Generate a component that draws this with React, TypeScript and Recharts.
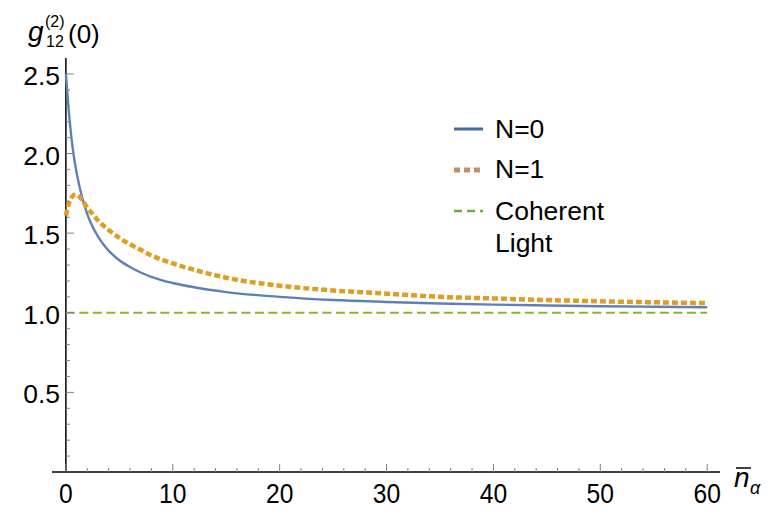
import React from 'react';
import { ComposedChart, Line, XAxis, YAxis, Scatter, ReferenceLine } from 'recharts';

const nBlue = [0, 0.25, 0.5, 0.75, 1, 1.5, 2, 2.5, 3, 3.5, 4, 5, 6, 7, 8, 9, 10, 12, 15, 20, 25, 30, 35, 40, 45, 50, 55, 60];
const gN0 = [2.5, 2.28, 2.11, 1.98, 1.88, 1.73, 1.62, 1.54, 1.48, 1.43, 1.39, 1.33, 1.287, 1.253, 1.226, 1.204, 1.187, 1.16, 1.13, 1.1, 1.08, 1.068, 1.058, 1.051, 1.046, 1.041, 1.038, 1.035];
const nOrange = [0, 0.25, 0.5, 0.75, 1, 1.5, 2, 2.5, 3, 4, 5, 6, 7, 8, 10, 12, 15, 20, 25, 30, 35, 40, 45, 50, 55, 60];
const gN1 = [1.61, 1.68, 1.72, 1.74, 1.74, 1.71, 1.66, 1.62, 1.58, 1.52, 1.47, 1.43, 1.395, 1.36, 1.31, 1.27, 1.22, 1.17, 1.14, 1.12, 1.1, 1.09, 1.08, 1.072, 1.066, 1.061];
const nCoherent = [0, 60];
const gCoherent = [1, 1];

const xTicks = [0, 2, 4, 6, 8, 10, 12, 14, 16, 18, 20, 22, 24, 26, 28, 30, 32, 34, 36, 38, 40, 42, 44, 46, 48, 50, 52, 54, 56, 58, 60];
const xLabels = [0, 10, 20, 30, 40, 50, 60];
const yMinorTicks = [0.1, 0.2, 0.3, 0.4, 0.5, 0.6, 0.7, 0.8, 0.9, 1.0, 1.1, 1.2, 1.3, 1.4, 1.5, 1.6, 1.7, 1.8, 1.9, 2.0, 2.1, 2.2, 2.3, 2.4, 2.5];
const yLabels = [0.5, 1.0, 1.5, 2.0, 2.5];

const dataN0 = nBlue.map((n, i) => ({ n, g: gN0[i] }));
const dataN1 = nOrange.map((n, i) => ({ n, g: gN1[i] }));
const dataCoh = nCoherent.map((n, i) => ({ n, g: gCoherent[i] }));
const yTickMarks = yMinorTicks.map((v) => ({ n: 0, g: v, major: yLabels.some((l) => Math.abs(l - v) < 1e-6) }));

const FONT = '"Liberation Sans", Arial, Helvetica, sans-serif';
const TICK_COLOR = '#808080';

const XTick = (props: any) => {
  const { x, y, payload } = props;
  const v = payload.value;
  const major = xLabels.includes(v);
  return (
    <g>
      <line x1={x} x2={x} y1={y} y2={y - (major ? 8 : 4)} stroke={TICK_COLOR} strokeWidth={1} />
      {major && (
        <text x={x} y={y + 31} textAnchor="middle" fontFamily={FONT} fontSize={28} fill="#000"
          transform={`translate(${x} 0) scale(0.88 1) translate(${-x} 0)`}>
          {v}
        </text>
      )}
    </g>
  );
};

const YTick = (props: any) => {
  const { x, y, payload } = props;
  return (
    <text x={x + 8} y={y + 11} textAnchor="end" fontFamily={FONT} fontSize={26.5} fill="#000">
      {payload.value.toFixed(1)}
    </text>
  );
};

const YTickMark = (props: any) => {
  const { cx, cy, payload } = props;
  const len = payload.major ? 8 : 4;
  return <line x1={cx} x2={cx + len} y1={cy} y2={cy} stroke={TICK_COLOR} strokeWidth={1} />;
};

export default function App() {
  return (
    <div style={{ position: 'absolute', left: 0, top: 0, width: 784, height: 530, background: '#fff' }}>
      <ComposedChart width={784} height={530} margin={{ top: 58, right: 64, bottom: 28, left: 0 }}>
        <XAxis
          type="number"
          dataKey="n"
          domain={[-1.3, 61.2]}
          allowDataOverflow
          ticks={xTicks}
          interval={0}
          tickSize={0}
          tickMargin={0}
          tickLine={false}
          tick={<XTick />}
          axisLine={{ stroke: '#000', strokeWidth: 1.5 }}
          height={30}
        />
        <YAxis
          type="number"
          domain={[0, 2.6]}
          allowDataOverflow
          ticks={yLabels}
          interval={0}
          tickSize={0}
          tickMargin={0}
          tickLine={false}
          axisLine={false}
          tick={<YTick />}
          width={52}
        />
        <ReferenceLine x={0} stroke="#000" strokeWidth={1.5} />
        <Scatter data={yTickMarks} dataKey="g" shape={<YTickMark />} isAnimationActive={false} />
        <Line data={dataN0} dataKey="g" type="monotone" stroke="#5e81b5" strokeWidth={2.4} dot={false} isAnimationActive={false} />
        <Line data={dataN1} dataKey="g" type="monotone" stroke="#e19c24" strokeWidth={4.5} strokeDasharray="6 3" dot={false} isAnimationActive={false} />
        <Line data={dataCoh} dataKey="g" type="linear" stroke="#8fb131" strokeWidth={2} strokeDasharray="9 4.5" dot={false} isAnimationActive={false} />
      </ComposedChart>
      <svg width={784} height={530} style={{ position: 'absolute', left: 0, top: 0, pointerEvents: 'none' }}>
        <g fontFamily={FONT} fill="#000">
          <text x={28} y={41} fontSize={28} fontStyle="italic">g</text>
          <text x={45} y={27} fontSize={16}>(2)</text>
          <text x={46} y={47} fontSize={16}>12</text>
          <text x={68} y={43} fontSize={26}>(0)</text>

          <text x={734} y={487} fontSize={28} fontStyle="italic">n</text>
          <line x1={736} x2={751} y1={468} y2={468} stroke="#000" strokeWidth={1.5} />
          <text x={750} y={494} fontSize={18} fontStyle="italic">α</text>

          <line x1={454} x2={483} y1={129} y2={129} stroke="#3f6b9c" strokeWidth={3} />
          <text x={495} y={138} fontSize={26.5}>N=0</text>
          <line x1={454} x2={483} y1={170} y2={170} stroke="#c0906a" strokeWidth={5} strokeDasharray="6 4" />
          <text x={495} y={178} fontSize={26.5}>N=1</text>
          <line x1={454} x2={483} y1={211} y2={211} stroke="#6aac40" strokeWidth={2.5} strokeDasharray="8 5" />
          <text x={495} y={220} fontSize={26.5}>Coherent</text>
          <text x={495} y={252} fontSize={26.5}>Light</text>
        </g>
      </svg>
    </div>
  );
}
